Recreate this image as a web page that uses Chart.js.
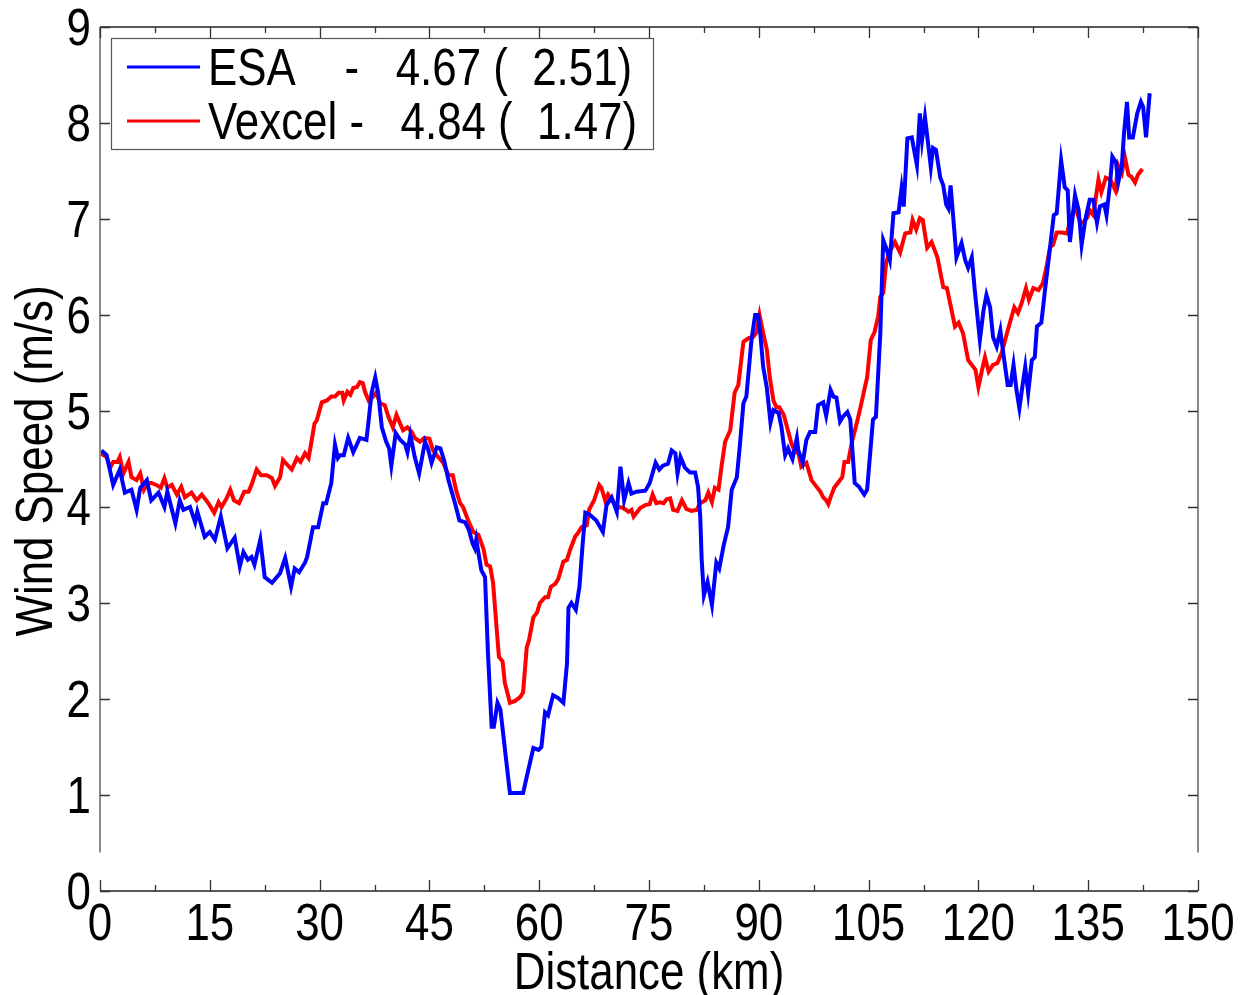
<!DOCTYPE html>
<html>
<head>
<meta charset="utf-8">
<script src="https://cdn.jsdelivr.net/npm/chart.js@4.4.1/dist/chart.umd.min.js"></script>
<style>
  html, body { margin: 0; padding: 0; background: #ffffff; }
  #wrap { width: 1241px; height: 995px; }
</style>
</head>
<body>
<div id="wrap"><canvas id="c" width="1241" height="995"></canvas></div>
<script>
// Wind speed profile along the transect (km vs m/s)
const esaKm = [0.2,0.9,1.8,2.7,3.4,4.3,5.0,5.5,6.4,7.0,8.0,8.8,9.2,10.3,10.9,11.4,12.3,13.0,13.3,14.3,15.0,15.7,16.5,17.4,18.4,19.1,19.6,20.2,20.7,21.1,21.9,22.5,23.5,24.6,25.3,26.1,26.6,27.2,28.0,28.3,29.1,29.8,30.5,30.9,31.6,32.1,32.5,32.8,33.3,33.9,34.6,35.5,36.4,36.7,37.1,37.6,38.0,38.5,39.1,39.5,39.8,40.4,41.0,41.7,42.0,42.4,43.0,43.6,44.4,44.8,45.3,46.0,46.5,47.0,47.6,48.5,49.1,49.9,50.4,50.9,51.2,51.4,52.1,52.6,53.0,53.5,53.8,54.3,54.7,56.0,56.9,57.8,58.3,59.2,59.9,60.3,60.8,61.2,61.9,62.6,63.3,63.8,64.0,64.4,65.0,65.5,65.9,66.3,66.9,67.8,68.7,69.2,69.9,70.6,71.1,71.6,72.2,72.6,73.3,74.5,75.1,75.9,76.4,76.9,77.6,78.1,78.6,78.9,79.3,79.9,80.6,81.3,81.7,82.0,82.2,82.5,83.0,83.6,84.2,84.6,85.2,85.8,86.3,87.0,87.4,87.9,88.3,89.0,89.5,89.9,90.2,90.6,91.1,91.6,92.0,92.7,93.1,93.6,94.0,94.6,95.2,95.4,96.0,96.5,97.0,97.7,98.1,98.8,99.2,99.8,100.2,100.6,101.1,101.5,102.1,102.5,103.1,103.7,104.4,104.8,105.6,106.0,106.6,107.0,107.4,107.9,108.4,109.1,109.5,109.8,110.3,110.9,111.6,112.0,112.3,112.7,113.2,113.5,113.8,114.2,114.8,115.2,115.6,115.9,116.2,116.7,117.0,117.7,118.2,118.6,119.1,119.5,120.2,120.7,121.1,121.6,122.0,122.5,123.0,123.4,124.0,124.4,124.8,125.2,125.6,126.0,126.4,126.8,127.3,127.7,128.0,128.6,129.1,129.8,130.3,130.7,131.3,131.8,132.2,132.5,133.2,133.7,134.1,134.6,135.2,135.7,136.2,136.6,137.2,137.5,138.0,138.3,138.8,139.1,139.6,139.9,140.3,140.6,141.1,141.7,142.2,142.5,142.9,143.4];
const esaSpeed = [4.59,4.54,4.23,4.39,4.15,4.18,3.97,4.20,4.28,4.07,4.15,4.00,4.16,3.83,4.07,3.97,4.00,3.84,3.95,3.69,3.74,3.66,3.90,3.57,3.68,3.38,3.53,3.45,3.48,3.40,3.66,3.27,3.21,3.31,3.47,3.17,3.36,3.32,3.42,3.48,3.79,3.79,4.04,4.04,4.25,4.65,4.51,4.54,4.54,4.72,4.57,4.72,4.70,4.90,5.19,5.35,5.19,4.83,4.68,4.61,4.43,4.77,4.70,4.65,4.57,4.75,4.52,4.35,4.68,4.61,4.46,4.62,4.61,4.49,4.28,4.04,3.86,3.84,3.76,3.62,3.57,3.66,3.34,3.27,2.48,1.71,1.71,1.96,1.89,1.02,1.02,1.02,1.19,1.49,1.47,1.50,1.86,1.83,2.04,2.01,1.96,2.37,2.95,3.00,2.93,3.17,3.58,3.94,3.92,3.86,3.74,4.02,4.10,3.95,4.42,4.07,4.25,4.14,4.16,4.17,4.25,4.46,4.39,4.43,4.45,4.59,4.56,4.35,4.52,4.41,4.36,4.36,4.21,3.90,3.45,3.08,3.22,2.98,3.42,3.36,3.60,3.79,4.18,4.31,4.63,5.08,5.15,5.74,6.00,6.00,5.81,5.46,5.24,4.88,5.01,4.98,4.83,4.54,4.61,4.50,4.72,4.59,4.46,4.70,4.78,4.78,5.06,5.09,4.95,5.22,5.15,5.14,4.89,4.94,4.99,4.91,4.25,4.21,4.13,4.18,4.91,4.94,5.81,6.78,6.70,6.57,7.06,7.07,7.32,7.13,7.84,7.85,7.56,8.10,7.82,8.06,7.74,7.54,7.74,7.72,7.43,7.35,7.15,7.11,7.35,6.89,6.60,6.75,6.57,6.49,6.60,6.26,5.74,6.05,6.21,6.08,5.77,5.67,5.84,5.60,5.27,5.27,5.48,5.22,5.03,5.25,5.46,5.19,5.53,5.56,5.88,5.92,6.26,6.71,7.04,7.06,7.61,7.33,7.30,6.76,7.25,7.09,6.73,6.99,7.20,7.20,6.96,7.13,7.15,7.04,7.38,7.65,7.59,7.38,7.56,7.90,8.22,7.85,7.85,8.10,8.22,8.17,7.85,8.31];

const vexKm = [0.1,0.9,1.4,1.8,2.4,2.7,3.2,3.9,4.3,5.0,5.5,6.0,6.5,7.0,7.7,8.3,8.8,9.2,9.8,10.5,11.1,11.6,12.5,13.2,13.9,14.8,15.6,16.2,16.6,17.3,17.8,18.3,19.0,19.7,20.3,20.7,21.4,22.0,22.8,23.5,23.9,24.6,25.0,25.7,26.2,26.9,27.4,28.0,28.5,29.0,29.3,29.6,30.3,31.0,31.6,32.1,32.6,33.1,33.3,33.8,34.2,34.6,35.1,35.5,35.9,36.2,36.7,37.2,37.7,38.3,38.9,39.4,40.0,40.5,41.4,42.0,42.6,43.0,43.7,44.3,45.0,45.5,46.2,46.9,47.6,48.2,48.7,49.2,49.6,50.3,51.0,51.7,52.4,52.8,53.3,53.7,54.2,54.5,55.0,55.3,56.0,56.7,57.4,57.8,58.3,58.6,59.2,59.7,60.1,60.8,61.2,61.6,62.2,62.6,63.3,63.8,64.2,64.9,65.3,65.8,66.5,66.8,67.5,68.2,68.5,69.0,69.4,70.1,70.8,71.5,72.2,72.6,72.9,73.8,74.5,75.1,75.5,76.0,76.5,77.0,77.4,77.9,78.3,78.9,79.5,80.1,80.8,81.5,82.0,82.7,83.1,83.6,84.0,84.5,84.9,85.4,86.1,86.7,87.2,87.9,88.6,89.2,89.7,90.1,90.6,91.1,91.5,92.0,92.4,92.8,93.4,93.9,94.5,95.0,95.4,95.8,96.5,97.2,97.9,98.4,98.8,99.2,99.5,99.8,100.3,100.9,101.4,101.7,102.2,102.7,103.4,103.9,104.5,104.8,105.3,105.8,106.3,106.6,107.0,107.4,107.9,108.6,109.3,110.0,110.7,111.0,111.5,112.0,112.4,113.0,113.6,114.4,115.2,115.7,116.8,117.3,117.9,118.6,119.3,119.6,120.0,120.5,120.9,121.4,122.0,122.6,123.2,123.9,124.3,124.9,125.4,125.9,126.5,126.9,127.5,128.2,128.8,129.3,129.8,130.2,130.7,131.4,132.1,132.5,133.2,133.9,134.3,134.9,135.2,135.7,136.4,136.8,137.4,138.0,138.7,139.1,139.6,140.0,140.5,140.9,141.4,141.8,142.4];
const vexSpeed = [4.56,4.52,4.41,4.47,4.47,4.52,4.35,4.47,4.31,4.28,4.35,4.18,4.25,4.25,4.23,4.20,4.30,4.20,4.23,4.13,4.21,4.10,4.15,4.07,4.13,4.04,3.94,4.05,4.00,4.09,4.18,4.07,4.04,4.16,4.16,4.23,4.39,4.33,4.33,4.30,4.22,4.31,4.49,4.43,4.39,4.51,4.47,4.56,4.51,4.73,4.87,4.90,5.09,5.11,5.15,5.15,5.19,5.19,5.11,5.20,5.17,5.24,5.25,5.30,5.29,5.20,5.11,5.14,5.19,5.08,5.06,4.94,4.83,4.96,4.80,4.83,4.78,4.72,4.68,4.72,4.71,4.59,4.52,4.46,4.33,4.33,4.16,4.04,4.00,3.86,3.74,3.71,3.56,3.40,3.38,3.21,2.72,2.44,2.39,2.17,1.96,1.98,2.02,2.07,2.54,2.61,2.85,2.90,3.00,3.06,3.06,3.17,3.20,3.25,3.43,3.45,3.55,3.69,3.73,3.79,3.81,3.97,4.07,4.23,4.20,4.07,4.13,4.05,4.00,3.99,3.95,3.97,3.90,3.99,4.02,4.03,4.13,4.04,4.05,4.04,4.08,4.09,3.97,3.96,4.07,3.98,3.96,3.97,4.04,4.07,4.15,4.05,4.20,4.18,4.42,4.68,4.80,5.19,5.27,5.72,5.76,5.77,5.82,6.00,5.81,5.64,5.35,5.11,5.04,5.04,4.96,4.82,4.65,4.57,4.57,4.42,4.46,4.28,4.21,4.16,4.10,4.07,4.03,4.10,4.20,4.26,4.31,4.47,4.47,4.67,4.88,5.04,5.25,5.35,5.74,5.82,5.98,6.19,6.23,6.55,6.66,6.76,6.65,6.85,6.86,6.99,6.89,7.01,6.99,6.70,6.76,6.60,6.29,6.28,5.88,5.92,5.81,5.53,5.46,5.43,5.25,5.43,5.56,5.41,5.48,5.50,5.61,5.81,5.92,6.08,6.02,6.12,6.28,6.16,6.28,6.26,6.33,6.50,6.71,6.73,6.86,6.86,6.85,6.97,7.13,6.97,6.96,7.02,7.09,7.04,7.41,7.28,7.43,7.41,7.30,7.56,7.48,7.65,7.46,7.44,7.38,7.46,7.52];

const seriesLabels = ['ESA    -   4.67 (  2.51)', 'Vexcel -   4.84 (  1.47)'];
const seriesColors = ['#0000ff', '#ff0000'];

const xTickValues = [0,7.5,15,22.5,30,37.5,45,52.5,60,67.5,75,82.5,90,97.5,105,112.5,120,127.5,135,142.5,150];
const yTickValues = [0,1,2,3,4,5,6,7,8,9];
const xTitle = 'Distance (km)';
const yTitle = 'Wind Speed (m/s)';

// Text is set in a horizontally condensed Arial-metric face
const FONT = "51px 'Liberation Sans', Arial, sans-serif";
const NARROW = 0.86;

function toPoints(xs, ys) { return xs.map((v, i) => ({ x: v, y: ys[i] })); }

function narrowText(ctx, text, x, y, align, rotation) {
  ctx.save();
  ctx.translate(x, y);
  if (rotation) ctx.rotate(rotation);
  ctx.scale(NARROW, 1);
  ctx.font = FONT;
  ctx.textAlign = align;
  ctx.textBaseline = 'alphabetic';
  ctx.fillStyle = '#000000';
  ctx.fillText(text, 0, 0);
  ctx.restore();
}

// Box frame with inward tick marks on all four sides
const framePlugin = {
  id: 'boxFrame',
  afterDatasetsDraw(chart) {
    const { ctx, chartArea: a, scales: { x, y } } = chart;
    ctx.save();
    ctx.lineCap = 'butt';
    ctx.strokeStyle = '#222222';
    ctx.lineWidth = 1.6;
    ctx.beginPath();
    ctx.moveTo(a.left, a.top); ctx.lineTo(a.right, a.top);
    ctx.moveTo(a.left, a.bottom); ctx.lineTo(a.right, a.bottom);
    ctx.stroke();
    ctx.strokeStyle = '#8a8a8a';
    ctx.lineWidth = 2;
    const sideEnd = y.getPixelForValue(0.4);
    ctx.beginPath();
    ctx.moveTo(a.left, a.top); ctx.lineTo(a.left, sideEnd);
    ctx.moveTo(a.right, a.top); ctx.lineTo(a.right, sideEnd);
    ctx.stroke();
    ctx.strokeStyle = '#333333';
    ctx.lineWidth = 1.3;
    ctx.beginPath();
    x.ticks.forEach(t => {
      const px = Math.round(x.getPixelForValue(t.value)) + 0.5;
      const len = (t.value % 15 === 0) ? 11 : 6;
      ctx.moveTo(px, a.bottom); ctx.lineTo(px, a.bottom - len);
      ctx.moveTo(px, a.top); ctx.lineTo(px, a.top + len);
    });
    y.ticks.forEach(t => {
      const py = Math.round(y.getPixelForValue(t.value)) + 0.5;
      ctx.moveTo(a.left, py); ctx.lineTo(a.left + 10, py);
      ctx.moveTo(a.right, py); ctx.lineTo(a.right - 10, py);
    });
    ctx.stroke();
    ctx.restore();
  }
};

// Tick labels and axis titles, placed from the chart's own scales
const axisText = {
  id: 'axisText',
  afterDraw(chart) {
    const { ctx, chartArea: a, scales: { x, y } } = chart;
    x.ticks.forEach(t => {
      if (t.value % 15 !== 0) return;
      narrowText(ctx, String(t.value), x.getPixelForValue(t.value), a.bottom + 49, 'center');
    });
    y.ticks.forEach(t => {
      narrowText(ctx, String(t.value), a.left - 9, y.getPixelForValue(t.value) + 18, 'right');
    });
    narrowText(ctx, xTitle, (a.left + a.right) / 2, 989, 'center');
    narrowText(ctx, yTitle, 52, (a.top + a.bottom) / 2 + 2, 'center', -Math.PI / 2);
  }
};

// Legend box drawn inside the upper-left corner of the plot
const insideLegend = {
  id: 'insideLegend',
  afterDraw(chart) {
    const { ctx, chartArea: a } = chart;
    const bx = a.left + 11, by = a.top + 11, bw = 542, bh = 111;
    ctx.save();
    ctx.fillStyle = '#ffffff';
    ctx.fillRect(bx, by, bw, bh);
    ctx.strokeStyle = '#555555';
    ctx.lineWidth = 1.2;
    ctx.strokeRect(bx + 0.5, by + 0.5, bw, bh);
    chart.data.datasets.forEach((ds, i) => {
      const cy = by + 29 + i * 54;
      ctx.strokeStyle = ds.borderColor;
      ctx.lineWidth = 3;
      ctx.beginPath();
      ctx.moveTo(bx + 16, cy); ctx.lineTo(bx + 89, cy);
      ctx.stroke();
      narrowText(ctx, ds.label, bx + 97, cy + 18, 'left');
    });
    ctx.restore();
  }
};

new Chart(document.getElementById('c'), {
  type: 'line',
  data: {
    datasets: [
      { label: seriesLabels[0], data: toPoints(esaKm, esaSpeed), borderColor: seriesColors[0], backgroundColor: seriesColors[0], borderWidth: 4, pointRadius: 0, tension: 0, fill: false },
      { label: seriesLabels[1], data: toPoints(vexKm, vexSpeed), borderColor: seriesColors[1], backgroundColor: seriesColors[1], borderWidth: 4, pointRadius: 0, tension: 0, fill: false }
    ]
  },
  options: {
    responsive: false,
    animation: false,
    devicePixelRatio: 1,
    layout: { padding: { top: 27, right: 43, left: 0, bottom: 0 } },
    plugins: { legend: { display: false }, tooltip: { enabled: false } },
    scales: {
      x: {
        type: 'linear', min: 0, max: 150,
        afterBuildTicks: s => { s.ticks = xTickValues.map(v => ({ value: v })); },
        afterFit: s => { s.height = 104; },
        grid: { display: false },
        border: { display: false },
        ticks: { display: false },
        title: { display: false, text: xTitle }
      },
      y: {
        type: 'linear', min: 0, max: 9,
        afterBuildTicks: s => { s.ticks = yTickValues.map(v => ({ value: v })); },
        afterFit: s => { s.width = 100; },
        grid: { display: false },
        border: { display: false },
        ticks: { display: false },
        title: { display: false, text: yTitle }
      }
    }
  },
  plugins: [framePlugin, axisText, insideLegend]
});
</script>
</body>
</html>
